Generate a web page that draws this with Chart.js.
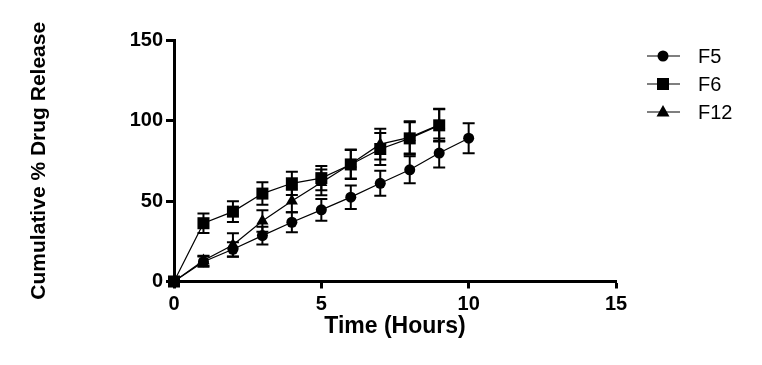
<!DOCTYPE html>
<html>
<head>
<meta charset="utf-8">
<script src="https://cdn.jsdelivr.net/npm/chart.js@4.4.0/dist/chart.umd.min.js"></script>
<style>
  html, body { margin: 0; padding: 0; background: #fff; }
  #wrap { width: 762px; height: 365px; }
</style>
</head>
<body>
<div id="wrap"><canvas id="release-chart" width="762" height="365"></canvas></div>
<script>
/* ---------- Data ---------- */
const hours = [0, 1, 2, 3, 4, 5, 6, 7, 8, 9, 10];

const f5Release = [0, 12.3, 20, 28.5, 36.8, 44.5, 52.4, 61, 69.4, 79.8, 89];
const f5Err     = [0, 3.2, 4.4, 5.5, 6.2, 6.7, 7.3, 7.8, 8.4, 9, 9.3];

const f6Release = [0, 36.2, 43.4, 54.6, 61, 64.2, 72.7, 82.3, 88.9, 97];
const f6Err     = [0, 6, 6.4, 7, 7.2, 7.5, 9, 10, 10, 10];

const f12Release = [0, 13, 22.7, 37.6, 50, 61.5, 73, 85.3, 89.5, 97.3];
const f12Err     = [0, 3, 7.3, 6.7, 7, 8, 9, 9.5, 10, 10];

const seriesNames = ['F5', 'F6', 'F12'];
const xTicks = [0, 5, 10, 15];
const yTicks = [0, 50, 100, 150];

const FONT = '"Liberation Sans", Arial, sans-serif';

function toPoints(values) {
    return values.map((v, i) => ({ x: hours[i], y: v }));
}

/* ---------- Error bars ---------- */
const errorBars = {
    id: 'errorBars',
    afterDatasetsDraw(chart) {
        const ctx = chart.ctx;
        const xs = chart.scales.x, ys = chart.scales.y;
        ctx.save();
        ctx.strokeStyle = '#000';
        ctx.lineWidth = 2;
        chart.data.datasets.forEach(ds => {
            (ds.errors || []).forEach((e, i) => {
                if (!e) return;
                const p = ds.data[i];
                const px = xs.getPixelForValue(p.x);
                const top = ys.getPixelForValue(p.y + e);
                const bot = ys.getPixelForValue(p.y - e);
                ctx.beginPath();
                ctx.moveTo(px, top); ctx.lineTo(px, bot);
                ctx.moveTo(px - 6, top); ctx.lineTo(px + 6, top);
                ctx.moveTo(px - 6, bot); ctx.lineTo(px + 6, bot);
                ctx.stroke();
            });
        });
        ctx.restore();
    }
};

/* ---------- Legend (line + marker) ---------- */
const sideLegend = {
    id: 'sideLegend',
    afterDraw(chart) {
        const ctx = chart.ctx;
        ctx.save();
        chart.data.datasets.forEach((ds, i) => {
            const y = 56 + i * 28;
            ctx.strokeStyle = '#000';
            ctx.lineWidth = 1.2;
            ctx.beginPath();
            ctx.moveTo(647, y); ctx.lineTo(680, y);
            ctx.stroke();
            ctx.fillStyle = '#000';
            ctx.beginPath();
            if (ds.pointStyle === 'circle') {
                ctx.arc(663, y, 5.5, 0, Math.PI * 2);
            } else if (ds.pointStyle === 'rect') {
                ctx.rect(657, y - 6, 12, 12);
            } else {
                ctx.moveTo(663, y - 7);
                ctx.lineTo(669.5, y + 4.5);
                ctx.lineTo(656.5, y + 4.5);
                ctx.closePath();
            }
            ctx.fill();
            ctx.font = '20px ' + FONT;
            ctx.textBaseline = 'middle';
            ctx.fillText(ds.label, 698, y + 1);
        });
        ctx.restore();
    }
};

const common = {
    borderColor: '#000',
    backgroundColor: '#000',
    pointBackgroundColor: '#000',
    pointBorderColor: '#000',
    borderWidth: 1.2,
    pointBorderWidth: 0,
    tension: 0,
    fill: false,
    clip: false
};

new Chart(document.getElementById('release-chart'), {
    type: 'line',
    data: {
        datasets: [
            { ...common, label: seriesNames[0], data: toPoints(f5Release), errors: f5Err, pointStyle: 'circle', pointRadius: 5.5 },
            { ...common, label: seriesNames[1], data: toPoints(f6Release), errors: f6Err, pointStyle: 'rect', pointRadius: 8.5 },
            { ...common, label: seriesNames[2], data: toPoints(f12Release), errors: f12Err, pointStyle: 'triangle', pointRadius: 7 }
        ]
    },
    options: {
        responsive: false,
        animation: false,
        events: [],
        layout: { padding: { left: 0, top: 40, right: 146, bottom: 0 } },
        plugins: { legend: { display: false }, tooltip: { enabled: false } },
        scales: {
            x: {
                type: 'linear',
                min: 0, max: 15,
                afterBuildTicks: s => { s.ticks = xTicks.map(v => ({ value: v })); },
                afterFit: s => { s.height = 83.5; },
                border: { display: true, color: '#000', width: 3 },
                grid: { drawOnChartArea: false, drawTicks: true, tickLength: 7, tickWidth: 3, tickColor: '#000' },
                ticks: { color: '#000', padding: 4, font: { family: FONT, size: 20, weight: 'bold' } },
                title: {
                    display: true, text: 'Time (Hours)', color: '#000',
                    padding: { top: 0, bottom: 25 },
                    font: { family: FONT, size: 23, weight: 'bold' }
                }
            },
            y: {
                min: 0, max: 150,
                afterBuildTicks: s => { s.ticks = yTicks.map(v => ({ value: v })); },
                afterFit: s => { s.width = 174; },
                border: { display: true, color: '#000', width: 3 },
                grid: { drawOnChartArea: false, drawTicks: true, tickLength: 8, tickWidth: 3, tickColor: '#000' },
                ticks: { color: '#000', padding: 3, font: { family: FONT, size: 20, weight: 'bold' } },
                title: {
                    display: true, text: 'Cumulative % Drug Release', color: '#000',
                    padding: { top: 27, bottom: 0 },
                    font: { family: FONT, size: 21, weight: 'bold' }
                }
            }
        }
    },
    plugins: [errorBars, sideLegend]
});
</script>
</body>
</html>
